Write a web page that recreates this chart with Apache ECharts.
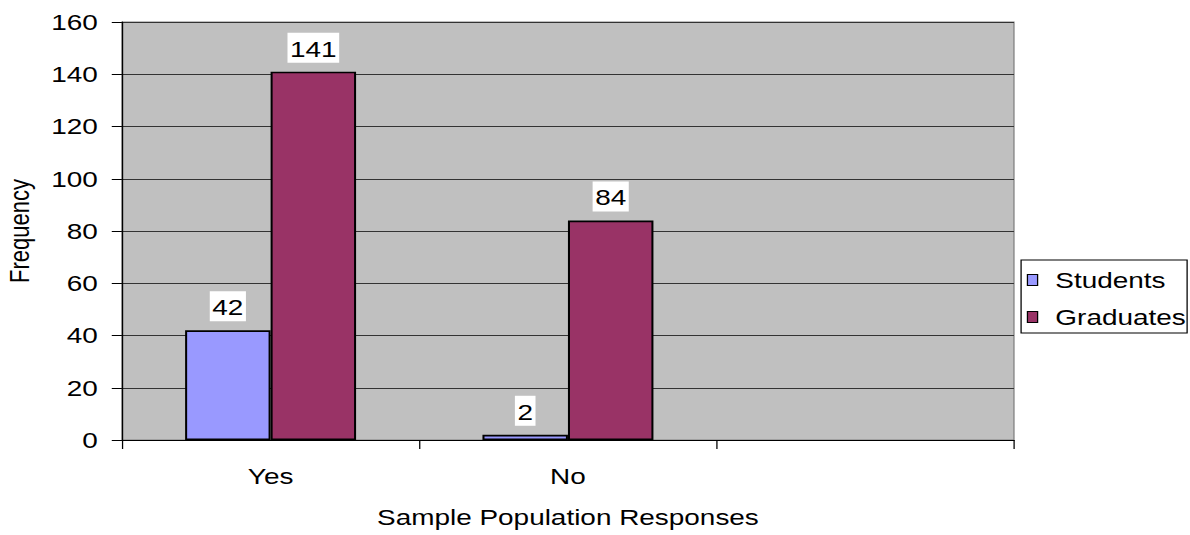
<!DOCTYPE html>
<html>
<head>
<meta charset="utf-8">
<script src="https://cdn.jsdelivr.net/npm/echarts@6/dist/echarts.min.js"></script>
<style>
  html, body { margin: 0; padding: 0; background: #fff; overflow: hidden; }
  /* The chart is laid out on a narrower canvas and widened to the full page,
     which gives the wide, stretched lettering of the original figure. */
  #chart {
    width: 937px;
    height: 535px;
    transform-origin: 0 0;
    transform: scaleX(1.27001);
  }
</style>
</head>
<body>
<div id="chart"></div>
<script>
// Survey responses by group
const categories = ['Yes', 'No', ''];
const students = [42, 2, null];
const graduates = [141, 84, null];
const yTicks = { min: 0, max: 160, interval: 20 };

const FONT = '"Liberation Sans", Arial, sans-serif';
const FS = 22;

const chart = echarts.init(document.getElementById('chart'), null, { renderer: 'svg' });

const valueLabel = {
  show: true,
  position: 'top',
  distance: 9,
  color: '#000',
  fontFamily: FONT,
  fontSize: FS,
  lineHeight: 24,
  backgroundColor: '#fff',
  padding: [4, 2, 2, 2]
};

chart.setOption({
  animation: false,
  backgroundColor: '#fff',
  textStyle: { fontFamily: FONT },
  grid: {
    left: 96, right: 138.6, top: 22, bottom: 95,
    outerBoundsMode: 'none',
    containLabel: false,
    show: true,
    backgroundColor: '#c0c0c0',
    borderColor: '#808080',
    borderWidth: 1
  },
  legend: {
    orient: 'vertical',
    left: 804,
    top: 260,
    data: ['Students', 'Graduates'],
    icon: 'rect',
    itemWidth: 8,
    itemHeight: 11,
    itemGap: 13,
    padding: [8, 1, 4, 4.5],
    borderColor: '#000',
    borderWidth: 1,
    backgroundColor: '#fff',
    itemStyle: { borderColor: '#000', borderWidth: 1 },
    textStyle: {
      fontFamily: FONT, fontSize: FS, color: '#000', lineHeight: 24,
      padding: [0, 0, 0, 9]
    }
  },
  xAxis: {
    type: 'category',
    data: categories,
    name: 'Sample Population Responses',
    nameLocation: 'middle',
    nameGap: 66,
    nameTextStyle: { fontFamily: FONT, fontSize: FS, color: '#000' },
    axisLine: { lineStyle: { color: '#000', width: 1 } },
    axisTick: { show: true, length: 9, lineStyle: { color: '#000' } },
    axisLabel: { fontFamily: FONT, fontSize: FS, color: '#000', margin: 25 }
  },
  yAxis: {
    type: 'value',
    min: yTicks.min,
    max: yTicks.max,
    interval: yTicks.interval,
    name: 'Frequency',
    nameLocation: 'middle',
    nameGap: 70,
    nameRotate: 90,
    nameTextStyle: { fontFamily: FONT, fontSize: FS, color: '#000' },
    axisLine: { show: true, lineStyle: { color: '#000', width: 1 } },
    axisTick: { show: true, length: 8, lineStyle: { color: '#000' } },
    axisLabel: { fontFamily: FONT, fontSize: FS, color: '#000', margin: 19 },
    splitLine: { show: true, lineStyle: { color: '#333', width: 1 } }
  },
  series: [
    {
      name: 'Students',
      type: 'bar',
      data: students,
      barGap: '0%',
      barCategoryGap: '42.5%',
      itemStyle: { color: '#9999ff', borderColor: '#000', borderWidth: 1.6 },
      label: valueLabel
    },
    {
      name: 'Graduates',
      type: 'bar',
      data: graduates,
      barGap: '0%',
      barCategoryGap: '42.5%',
      itemStyle: { color: '#993366', borderColor: '#000', borderWidth: 1.6 },
      label: valueLabel
    }
  ]
});
</script>
</body>
</html>
